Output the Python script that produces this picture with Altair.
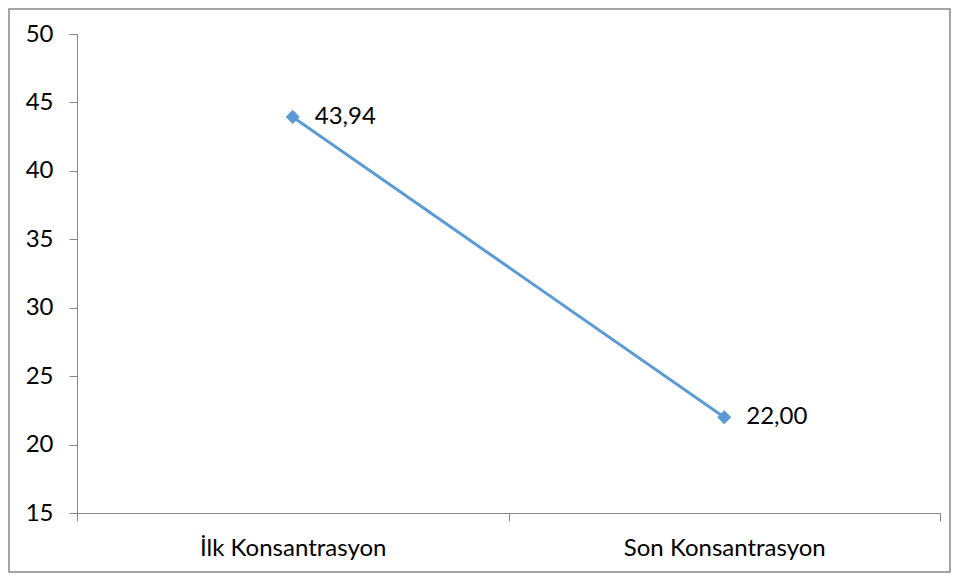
import altair as alt
import pandas as pd

categories = ["İlk Konsantrasyon", "Son Konsantrasyon"]
values = [43.94, 22.00]
value_labels = ["43,94", "22,00"]

df = pd.DataFrame({"cat": categories, "val": values, "lbl": value_labels})

FONT = "Lato"
BLUE = "#5B9BD5"
GRAY = "#868686"
FS = 24

x = alt.X("cat:N", sort=categories, title=None,
          scale=alt.Scale(type="band", paddingInner=0, paddingOuter=0),
          axis=alt.Axis(labelAngle=0, tickBand="extent", tickSize=8, labelPadding=15,
                        labelLimit=400,
                        domainColor=GRAY, tickColor=GRAY, labelFont=FONT,
                        labelFontSize=FS, labelColor="#000000"))
y = alt.Y("val:Q", title=None,
          scale=alt.Scale(domain=[15, 50], nice=False, zero=False),
          axis=alt.Axis(values=list(range(15, 51, 5)), tickSize=8, labelPadding=16,
                        grid=False, domainColor=GRAY, tickColor=GRAY, labelFont=FONT,
                        labelFontSize=FS, labelColor="#000000"))

base = alt.Chart(df)

border = base.mark_rect(fill=None, stroke=GRAY, strokeWidth=1.5).encode(
    x=alt.value(-68), x2=alt.value(873), y=alt.value(-25), y2=alt.value(538)
).transform_filter(alt.datum.cat == categories[0])

line = base.mark_line(color=BLUE, strokeWidth=3).encode(x=x, y=y)
pts = base.mark_point(shape="diamond", filled=True, color=BLUE, size=200, opacity=1).encode(x=x, y=y)
txt = base.mark_text(align="left", baseline="middle", dx=22, font=FONT, fontSize=FS,
                     color="#000000").encode(x=x, y=y, text="lbl:N")

chart = alt.layer(border, line, pts, txt).properties(
    width=863, height=479,
    autosize=alt.AutoSizeParams(type="none"),
    padding={"left": 69, "top": 26, "right": 11, "bottom": 60},
).configure_view(stroke=None)

chart.save("out.html", embed_options={"renderer": "svg", "actions": False})
